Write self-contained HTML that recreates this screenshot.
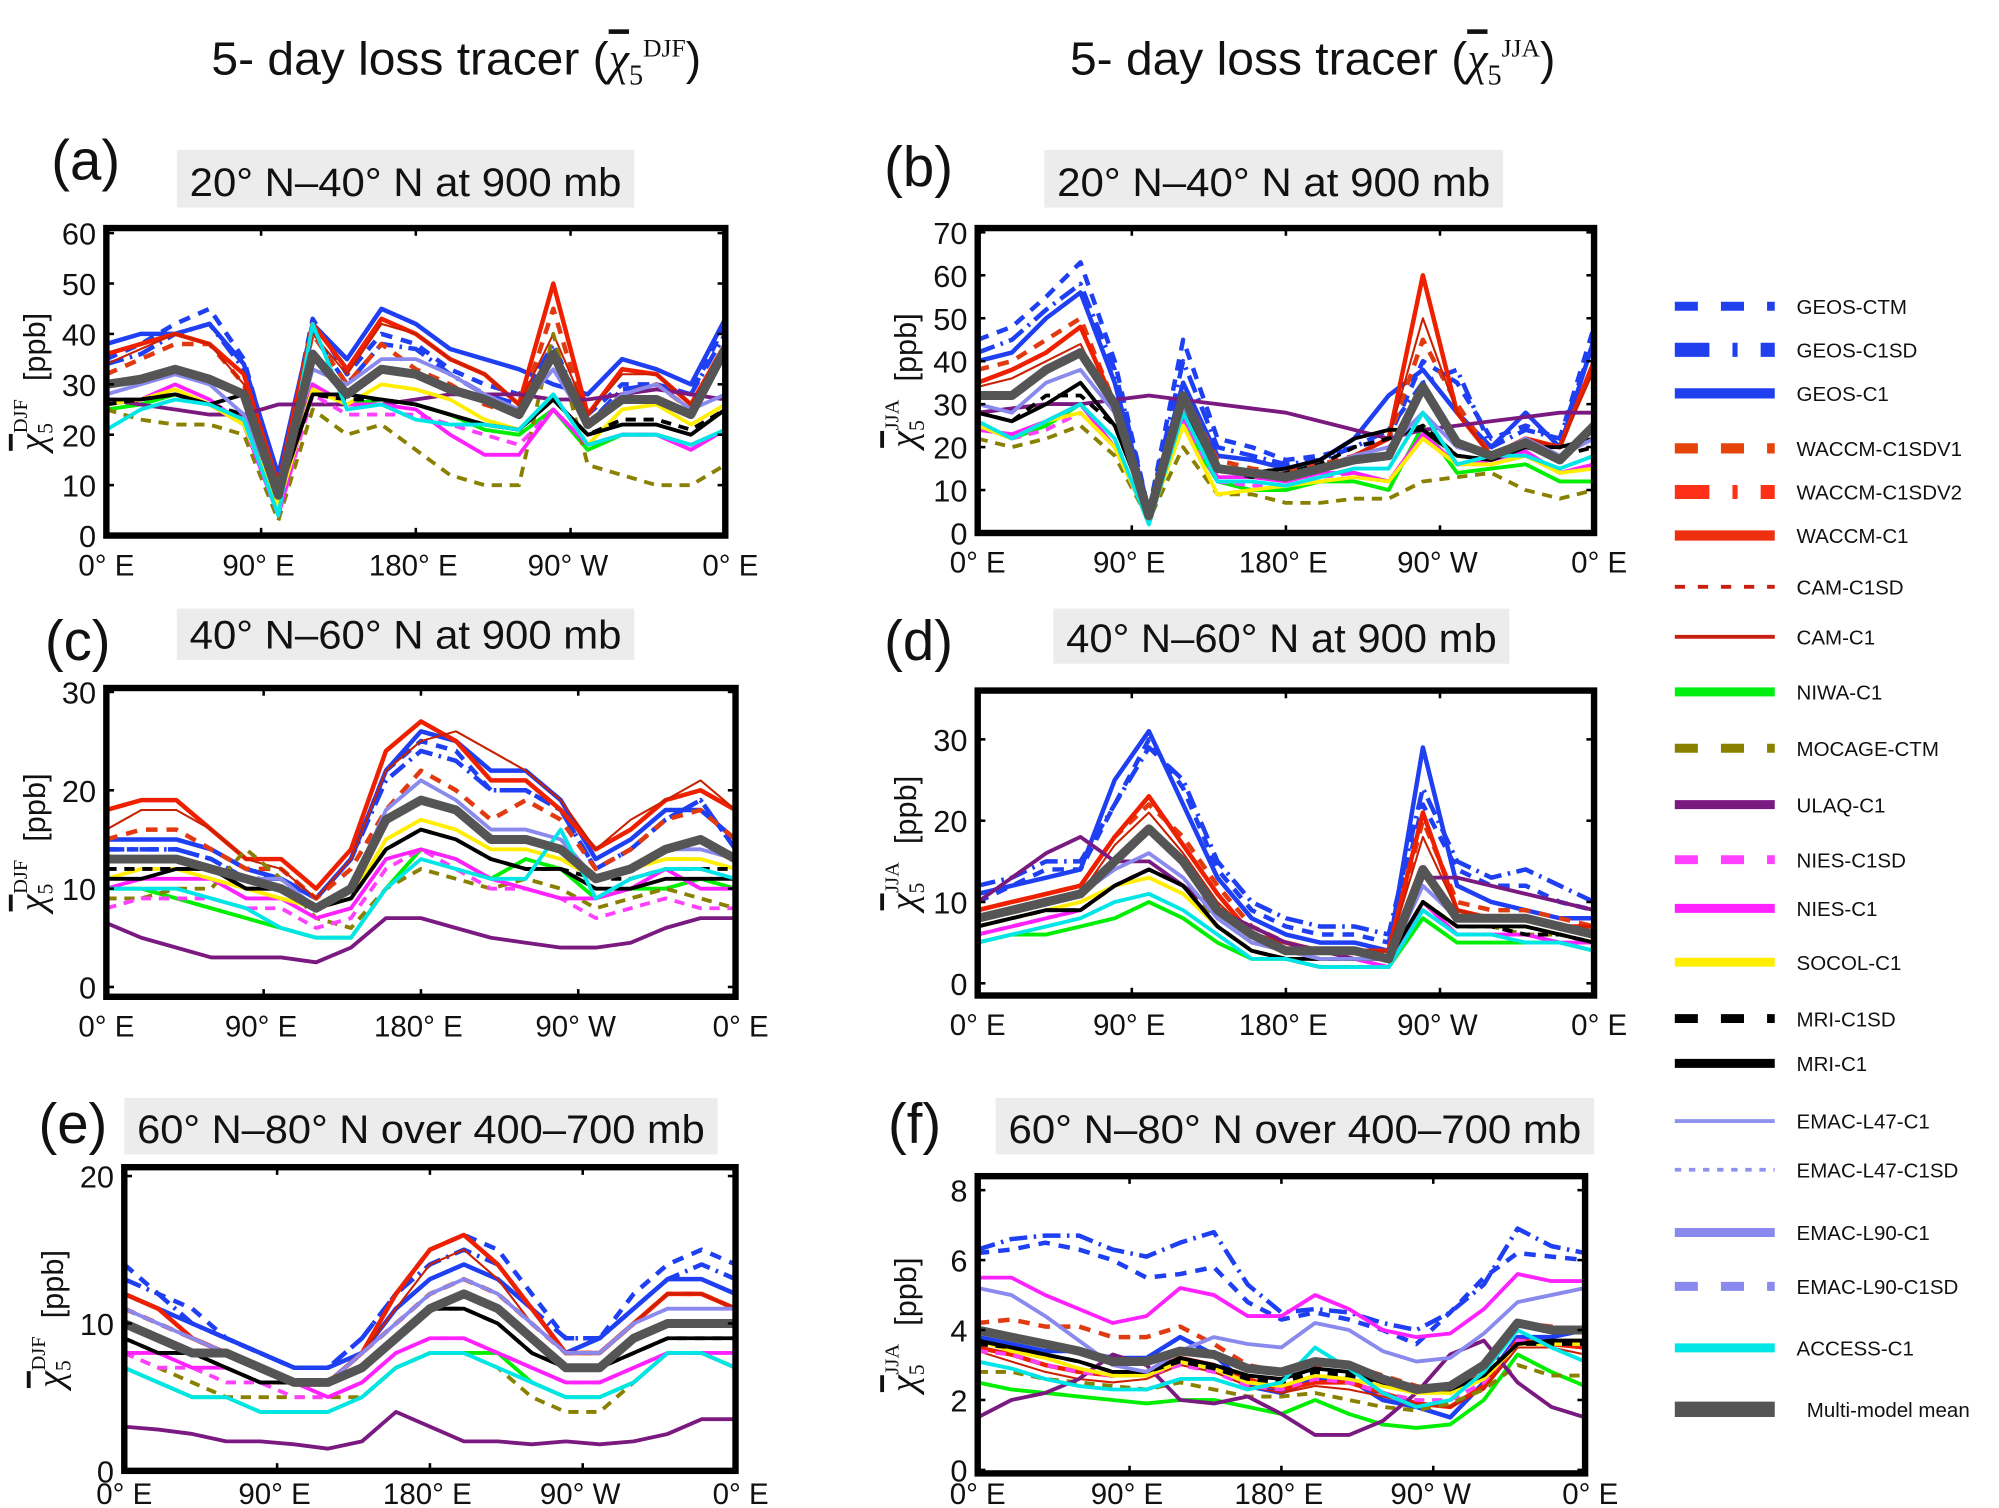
<!DOCTYPE html>
<html><head><meta charset="utf-8">
<style>
html,body{margin:0;padding:0;background:#fff;}
svg{display:block;font-family:"Liberation Sans",sans-serif;}
</style></head>
<body>
<svg id="fig" width="1999" height="1508" viewBox="0 0 1560 1177" preserveAspectRatio="none" xmlns="http://www.w3.org/2000/svg">
<g id="titles"></g>
<g id="panels"></g>
<g id="legend"></g>
</svg>
<script>
// ---- data (longitude every 20 deg, 0..360) ----
const lons = [0,20,40,60,80,100,120,140,160,180,200,220,240,260,280,300,320,340,360];
const seriesNames = ["GEOS-CTM","GEOS-C1SD","GEOS-C1","WACCM-C1SDV1","WACCM-C1","CAM-C1","NIWA-C1","MOCAGE-CTM","ULAQ-C1","NIES-C1SD","NIES-C1","SOCOL-C1","MRI-C1SD","MRI-C1","EMAC-L90-C1","ACCESS-C1","Multi-model mean"];
const xTickLabels = ["0° E","90° E","180° E","90° W","0° E"];
const yTicksA = [0,10,20,30,40,50,60];
const yTicksB = [0,10,20,30,40,50,60,70];
const yTicksC = [0,10,20,30];
const yTicksD = [0,10,20,30];
const yTicksE = [0,10,20];
const yTicksF = [0,2,4,6,8];

const panelA = [
[35,38,42,45,35,10,43,32,40,38,33,30,28,35,24,30,30,28,42],
[34,36,40,42,33,12,40,30,38,37,32,28,26,38,22,29,30,28,40],
[38,40,40,42,34,12,42,35,45,42,37,35,33,30,28,35,33,30,43],
[32,35,38,38,30,10,40,30,38,33,30,26,24,45,22,28,30,25,38],
[36,38,40,38,32,10,42,33,43,40,35,32,26,50,24,33,32,26,38],
[34,37,40,38,30,10,40,32,42,40,35,32,26,40,24,32,32,26,38],
[25,26,28,26,22,5,30,26,27,26,24,21,20,25,17,20,20,18,21],
[25,23,22,22,20,3,25,20,22,17,12,10,10,40,14,12,10,10,14],
[27,26,25,24,24,26,26,26,26,27,28,28,28,27,27,28,29,28,27],
[27,27,29,26,22,4,28,24,24,24,22,20,18,25,18,20,20,18,21],
[26,27,30,27,22,4,30,26,26,25,20,16,16,25,18,20,20,17,21],
[26,27,29,26,22,6,29,26,30,29,27,23,21,28,18,25,26,22,26],
[26,27,28,26,24,8,28,27,27,26,24,22,21,27,20,23,23,21,25],
[27,27,28,26,28,8,28,28,27,26,24,22,21,27,20,22,22,20,25],
[28,30,32,30,24,8,33,30,35,35,32,28,25,33,22,28,30,25,28],
[21,25,27,26,23,4,42,25,26,23,22,22,21,28,18,20,20,18,21],
[30,31,33,31,28,8,36,28,33,32,29,27,24,36,22,27,27,24,37]];
const panelB = [
[45,48,55,63,40,5,45,22,20,17,18,20,22,40,35,22,25,22,48],
[42,45,52,58,38,5,40,20,18,16,17,20,24,35,38,20,24,22,45],
[40,42,50,56,35,5,35,18,17,15,17,22,32,38,28,20,28,20,45],
[38,40,45,50,30,5,33,17,15,14,16,18,22,45,30,18,22,20,40],
[35,38,42,48,30,5,30,15,14,13,15,18,22,60,28,18,22,20,40],
[34,36,40,44,28,5,30,15,14,13,15,18,22,50,28,18,22,20,38],
[25,22,25,30,20,3,25,12,10,10,12,12,10,25,14,15,16,12,12],
[22,20,22,25,18,3,20,9,9,7,7,8,8,12,13,14,10,8,10],
[28,29,30,30,31,32,31,30,29,28,26,24,22,24,25,26,27,28,28],
[25,22,24,28,20,3,26,12,11,11,13,14,12,22,16,16,18,14,16],
[24,23,26,30,20,3,27,13,13,12,14,14,12,23,16,17,19,14,16],
[25,22,26,28,20,3,25,9,10,11,12,13,12,22,16,16,18,14,15],
[28,26,32,32,25,5,28,15,13,14,16,20,22,25,18,17,20,18,20],
[28,26,30,35,25,5,28,15,14,15,17,22,24,24,18,17,20,20,22],
[30,28,35,38,28,5,30,15,14,13,15,18,20,28,20,18,22,18,22],
[26,22,26,30,22,2,28,12,12,11,13,15,15,28,16,18,18,15,18],
[32,32,38,42,30,4,32,15,14,13,15,17,18,34,21,18,21,17,25]];
const panelC = [
[14,14,14,13,11,11,9,13,22,25,24,20,20,18,12,14,17,19,14],
[14,14,14,13,11,11,9,13,21,24,23,20,20,18,12,14,17,19,14],
[15,15,15,14,12,11,9,13,22,26,25,22,22,19,13,15,18,18,15],
[15,16,16,14,12,12,9,12,18,22,20,17,19,17,12,14,17,18,15],
[18,19,19,16,13,13,10,14,24,27,25,21,21,18,14,16,19,20,18],
[16,18,18,16,13,12,9,13,22,25,26,24,22,19,14,17,19,21,18],
[10,10,9,8,7,6,5,5,10,14,13,11,13,12,9,10,10,11,10],
[9,9,10,10,14,11,7,6,10,12,11,10,11,10,8,9,10,9,8],
[6.5,5,4,3,3,3,2.5,4,7,7,6,5,4.5,4,4,4.5,6,7,7],
[8,9,9,9,8,8,6,7,12,14,12,10,10,9,7,8,9,8,8],
[10,11,11,11,9,9,7,8,13,14,13,11,10,9,9,10,12,10,10],
[11,12,12,11,10,9,8,9,15,17,16,14,14,13,11,12,13,13,12],
[12,12,12,12,10,10,8,9,14,16,15,13,12,12,11,11,12,12,12],
[11,11,12,12,10,10,8,9,14,16,15,13,12,12,10,10,11,11,11],
[13,13,13,12,11,11,8,10,18,21,19,16,16,15,11,12,14,14,13],
[10,10,10,9,8,6,5,5,10,13,12,11,11,16,9,11,12,12,11],
[13,13,13,12,11,10,8,10,17,19,18,15,15,14,11,12,14,15,13]];
const panelD = [
[10,12,14,14,22,30,24,14,9,7,6,6,5,22,14,12,12,10,9],
[12,13,15,15,22,29,25,15,10,8,7,7,6,24,15,13,14,12,10],
[11,12,13,14,25,31,22,13,8,6,5,5,4,29,12,10,9,8,8],
[9,10,11,12,18,22,18,12,7,5,4,4,4,20,10,9,9,8,7],
[9,10,11,12,18,23,17,11,6,5,4,4,4,21,9,8,8,7,7],
[8,9,10,11,17,21,16,10,6,5,4,4,4,18,9,8,8,7,7],
[5,6,6,7,8,10,8,5,3,3,2,2,2,8,5,5,5,5,4],
[6,7,8,9,12,14,12,8,5,4,3,3,3,10,7,7,6,6,5],
[10,13,16,18,15,15,12,9,7,5,4,3,3,13,13,12,11,10,9],
[6,7,8,9,12,14,12,7,4,3,2,2,2,9,6,6,6,5,4],
[6,7,8,9,12,14,12,7,4,3,3,3,2,10,6,6,6,5,5],
[7,8,9,10,12,13,11,7,4,3,3,3,3,10,7,7,7,6,5],
[7,8,9,9,12,14,12,7,4,3,3,3,3,10,7,7,6,6,5],
[7,8,9,9,12,14,12,7,4,3,3,3,3,10,7,7,7,6,5],
[8,9,10,11,14,16,13,8,5,4,3,3,3,12,8,8,8,7,6],
[5,6,7,8,10,11,9,6,3,3,2,2,2,9,6,6,5,5,4],
[8,9,10,11,15,19,15,9,6,4,4,4,3,14,8,8,8,7,6]];
const panelE = [
[14,12,11,9,8,7,7,9,12,15,16,15,12,9,9,12,14,15,14],
[13,12,10,9,8,7,7,9,12,14,15,14,11,9,9,11,13,14,13],
[12,11,10,9,8,7,7,8,11,13,14,13,11,8,9,11,13,13,12],
[11,10,9,8,7,6,6,8,10,12,13,12,10,8,8,10,12,12,11],
[12,11,9,8,7,6,6,8,12,15,16,14,11,8,8,10,12,12,11],
[11,10,9,8,7,6,6,8,11,14,15,13,10,8,8,10,12,12,11],
[7,6,5,5,4,4,4,5,7,8,8,8,6,5,5,6,8,8,7],
[8,7,6,5,5,5,5,5,7,8,8,7,5,4,4,6,8,8,7],
[3,2.8,2.5,2,2,1.8,1.5,2,4,3,2,2,1.8,2,1.8,2,2.5,3.5,3.5],
[8,7,7,6,6,5,5,6,8,9,9,8,7,6,6,7,8,8,7],
[8,8,7,7,6,6,5,6,8,9,9,8,7,6,6,7,8,8,8],
[10,9,8,7,6,6,6,7,9,11,12,11,9,7,7,9,10,10,10],
[9,8,8,7,6,6,6,7,9,11,11,10,8,7,7,8,9,9,9],
[9,8,8,7,6,6,6,7,9,11,11,10,8,7,7,8,9,9,9],
[11,10,9,8,7,6,6,8,10,12,13,12,10,8,8,10,11,11,11],
[7,6,5,5,4,4,4,5,7,8,8,7,6,5,5,6,8,8,7],
[10,9,8,8,7,6,6,7,9,11,12,11,9,7,7,9,10,10,10]];
const panelF = [
[6.2,6.3,6.5,6.3,6.0,5.5,5.6,5.8,4.8,4.3,4.5,4.3,4.0,3.6,4.5,5.5,6.2,6.1,6.0],
[6.3,6.6,6.7,6.7,6.3,6.1,6.5,6.8,5.3,4.5,4.6,4.5,4.2,4.0,4.5,5.3,6.9,6.4,6.2],
[3.8,3.6,3.4,3.4,3.2,3.2,3.8,3.3,2.4,2.2,2.6,2.6,2.0,1.8,1.5,2.5,3.8,3.8,4.0],
[4.2,4.3,4.1,4.1,3.8,3.8,4.1,3.6,3.0,2.8,3.0,3.0,2.7,2.4,2.2,2.8,4.2,4.1,4.0],
[3.5,3.3,3.0,2.8,2.7,2.8,3.2,3.0,2.6,2.3,2.5,2.5,2.2,1.9,1.8,2.4,3.7,3.6,3.5],
[3.4,3.1,2.8,2.6,2.5,2.6,3.0,2.8,2.4,2.2,2.4,2.3,2.1,1.9,1.8,2.3,3.5,3.5,3.3],
[2.5,2.3,2.2,2.1,2.0,1.9,2.0,2.0,1.8,1.6,2.0,1.6,1.3,1.2,1.3,2.0,3.3,2.8,2.4],
[2.8,2.8,2.6,2.5,2.4,2.3,2.5,2.3,2.1,2.1,2.2,2.0,1.8,1.7,1.9,2.3,3.0,2.7,2.7],
[1.5,2.0,2.2,2.6,3.3,3.0,2.0,1.9,2.1,1.6,1.0,1.0,1.4,2.2,3.3,3.7,2.5,1.8,1.5],
[3.4,3.3,3.0,2.8,2.7,2.7,3.0,2.8,2.4,2.3,2.6,2.5,2.2,2.0,2.0,2.5,3.7,3.6,3.6],
[5.5,5.5,5.0,4.6,4.2,4.4,5.2,5.0,4.4,4.4,5.0,4.6,4.0,3.8,3.9,4.6,5.6,5.4,5.4],
[3.7,3.4,3.2,2.9,2.7,2.7,3.1,2.9,2.5,2.4,2.7,2.6,2.4,2.2,2.2,2.6,3.6,3.6,3.6],
[3.6,3.5,3.3,3.1,2.8,2.8,3.1,2.9,2.6,2.5,2.8,2.7,2.5,2.3,2.3,2.7,3.6,3.6,3.6],
[3.7,3.5,3.3,3.1,2.8,2.8,3.2,3.0,2.7,2.6,2.9,2.8,2.5,2.3,2.3,2.7,3.6,3.7,3.7],
[5.2,5.0,4.4,3.7,3.0,2.8,3.4,3.8,3.6,3.5,4.2,4.0,3.4,3.1,3.2,3.9,4.8,5.0,5.2],
[3.1,2.9,2.6,2.4,2.3,2.3,2.6,2.6,2.3,2.5,3.5,2.9,2.2,1.8,2.0,2.8,4.0,3.5,3.1],
[4.0,3.8,3.6,3.4,3.1,3.1,3.4,3.3,2.9,2.8,3.1,3.0,2.6,2.3,2.4,3.0,4.2,4.0,4.0]];

// ---- styles ----
const styles = [
 {c:"#1f3ff2",w:3.5,d:"9,7"},
 {c:"#1f3ff2",w:3.5,d:"14,5,2,5"},
 {c:"#1f3ff2",w:3.5,d:""},
 {c:"#e23a10",w:3.5,d:"9,7"},
 {c:"#ee2000",w:3.5,d:""},
 {c:"#c92000",w:1.6,d:""},
 {c:"#00ee00",w:3,d:""},
 {c:"#8a8000",w:3,d:"8,6"},
 {c:"#7a1a80",w:3,d:""},
 {c:"#ff40ff",w:3,d:"8,6"},
 {c:"#ff22ff",w:3,d:""},
 {c:"#ffee00",w:3,d:""},
 {c:"#000000",w:3,d:"8,6"},
 {c:"#000000",w:3,d:""},
 {c:"#8a8aee",w:3,d:""},
 {c:"#00e6e6",w:3,d:""},
 {c:"#555555",w:7,d:""}
];
const NS="http://www.w3.org/2000/svg";
function mk(tag,attrs,parent){const e=document.createElementNS(NS,tag);for(const k in attrs)e.setAttribute(k,attrs[k]);if(parent)parent.appendChild(e);return e;}

const panels = [
 {id:"a",data:panelA,ticks:yTicksA,x0:83,x1:566,y0:178,y1:418,ymin:0,ymax:61,season:"DJF",label:"(a)",lx:40,ly:140,title:"20° N–40° N  at 900 mb",bx:138,by:117,bw:357,bh:45},
 {id:"b",data:panelB,ticks:yTicksB,x0:763,x1:1244,y0:178,y1:416,ymin:0,ymax:71,season:"JJA",label:"(b)",lx:690,ly:145,title:"20° N–40° N  at 900 mb",bx:815,by:117,bw:358,bh:45},
 {id:"c",data:panelC,ticks:yTicksC,x0:83,x1:574,y0:537,y1:778,ymin:-1,ymax:30.4,season:"DJF",label:"(c)",lx:35,ly:515,title:"40° N–60° N at 900 mb",bx:138,by:475,bw:357,bh:40},
 {id:"d",data:panelD,ticks:yTicksD,x0:763,x1:1244,y0:539,y1:777,ymin:-1.5,ymax:36,season:"JJA",label:"(d)",lx:690,ly:515,title:"40° N–60° N at 900 mb",bx:822,by:475,bw:356,bh:43},
 {id:"e",data:panelE,ticks:yTicksE,x0:97,x1:574,y0:911,y1:1148,ymin:0,ymax:20.6,season:"DJF",label:"(e)",lx:30,ly:892,title:"60° N–80° N over 400–700 mb",bx:97,by:857,bw:463,bh:44},
 {id:"f",data:panelF,ticks:yTicksF,x0:763,x1:1237,y0:918,y1:1150,ymin:-0.1,ymax:8.4,season:"JJA",label:"(f)",lx:693,ly:892,title:"60° N–80° N over 400–700 mb",bx:777,by:857,bw:467,bh:44}
];

const titles=document.getElementById("titles");
function bigTitle(x,season,name){
  const t=mk("text",{x:x,y:58,"font-size":36,fill:"#111"},titles);
  
  
  t.innerHTML='<tspan textLength="310" lengthAdjust="spacingAndGlyphs">5- day loss tracer (</tspan><tspan font-family="Liberation Serif" font-style="italic" text-decoration="overline">χ</tspan><tspan font-family="Liberation Serif" font-size="22" dy="8">5</tspan><tspan font-family="Liberation Serif" font-size="20" dy="-22">'+season+'</tspan><tspan dy="14">)</tspan>';
}
bigTitle(165,"DJF","left-column-title");
bigTitle(835,"JJA","right-column-title");

const pg=document.getElementById("panels");
panels.forEach(p=>{
  const g=mk("g",{},pg);
  
  
  const xs=v=>p.x0+(v/360)*(p.x1-p.x0);
  const ys=v=>p.y1-(v-p.ymin)/(p.ymax-p.ymin)*(p.y1-p.y0);
  const lab=mk("text",{x:p.lx,y:p.ly,"font-size":44,fill:"#111"},g);
  lab.textContent=p.label;
  
  
  const box=mk("rect",{x:p.bx,y:p.by,width:p.bw,height:p.bh,fill:"#ececec"},g);
  
  
  const tt=mk("text",{x:p.bx+p.bw/2,y:p.by+p.bh-9,"font-size":31,"text-anchor":"middle",fill:"#111",textLength:p.bw-20,lengthAdjust:"spacingAndGlyphs"},g);
  tt.textContent=p.title;
  
  
  mk("clipPath",{id:"clip"+p.id},g).appendChild(mk("rect",{x:p.x0,y:p.y0,width:p.x1-p.x0,height:p.y1-p.y0}));
  const sg=mk("g",{"clip-path":"url(#clip"+p.id+")"},g);
  p.data.forEach((vals,i)=>{
    const s=styles[i];
    const pts=vals.map((v,j)=>xs(lons[j]).toFixed(1)+","+ys(v).toFixed(1)).join(" ");
    const pl=mk("polyline",{points:pts,fill:"none",stroke:s.c,"stroke-width":s.w,"stroke-linejoin":"round","stroke-linecap":"butt"},sg);
    if(s.d)pl.setAttribute("stroke-dasharray",s.d);
    
    
  });
  const fr=mk("rect",{x:p.x0,y:p.y0,width:p.x1-p.x0,height:p.y1-p.y0,fill:"none",stroke:"#000","stroke-width":5},g);
  
  
  p.ticks.forEach(t=>{
    const y=ys(t);
    mk("line",{x1:p.x0,x2:p.x0+6,y1:y,y2:y,stroke:"#000","stroke-width":2},g);
    mk("line",{x1:p.x1-6,x2:p.x1,y1:y,y2:y,stroke:"#000","stroke-width":2},g);
    const tl=mk("text",{x:p.x0-8,y:y+9,"font-size":24,"text-anchor":"end",fill:"#111"},g);
    tl.textContent=t;
    
    
  });
  const ly=Math.min(p.y1+31,1174);
  xTickLabels.forEach((l,k)=>{
    const x=xs(k*90);
    mk("line",{x1:x,x2:x,y1:p.y0,y2:p.y0+6,stroke:"#000","stroke-width":2},g);
    mk("line",{x1:x,x2:x,y1:p.y1-6,y2:p.y1,stroke:"#000","stroke-width":2},g);
    const tl=mk("text",{x:x+(k==0?0:k==4?4:-2),y:ly,"font-size":23,"text-anchor":"middle",fill:"#111"},g);
    tl.textContent=l;
    
    
  });
  const yc=(p.y0+p.y1)/2;
  const ax=p.x0-48;
  const yl=mk("text",{transform:"translate("+ax+","+yc+") rotate(-90)","font-size":24,"text-anchor":"middle",fill:"#111"},g);
  yl.innerHTML='<tspan font-family="Liberation Serif" font-style="italic" font-size="30" text-decoration="overline">χ</tspan><tspan font-family="Liberation Serif" font-size="17" dy="6">5</tspan><tspan font-family="Liberation Serif" font-size="16" dx="-8" dy="-20">'+p.season+'</tspan><tspan dx="14" dy="14">[ppb]</tspan>';
  
  
});

// ---- legend ----
const legNames=["GEOS-CTM","GEOS-C1SD","GEOS-C1","WACCM-C1SDV1","WACCM-C1SDV2","WACCM-C1","CAM-C1SD","CAM-C1","NIWA-C1","MOCAGE-CTM","ULAQ-C1","NIES-C1SD","NIES-C1","SOCOL-C1","MRI-C1SD","MRI-C1","EMAC-L47-C1","EMAC-L47-C1SD","EMAC-L90-C1","EMAC-L90-C1SD","ACCESS-C1","Multi-model mean"];
const legY=[239,273,307,350,384,418,458,497,540,584,628,671,709,751,795,830,875,913,962,1004,1052,1100];
const legSt=[
 {c:"#2040ee",w:7,d:"18,18"},{c:"#2040ee",w:11,d:"27,18,4,18"},{c:"#2040ee",w:8,d:""},
 {c:"#e5450a",w:8,d:"18,18"},{c:"#ff3018",w:11,d:"27,18,4,18"},{c:"#ee3010",w:8,d:""},
 {c:"#c82010",w:3,d:"8,10"},{c:"#c82010",w:3,d:""},{c:"#00ee10",w:7,d:""},
 {c:"#8a8000",w:7,d:"18,18"},{c:"#7a1a80",w:7,d:""},{c:"#ff40ff",w:7,d:"18,18"},
 {c:"#ff22ff",w:7,d:""},{c:"#ffee00",w:7,d:""},{c:"#000",w:7,d:"18,18"},{c:"#000",w:7,d:""},
 {c:"#9090ee",w:3,d:""},{c:"#9090ee",w:3,d:"5,6"},{c:"#8a8aee",w:7,d:""},{c:"#8a8aee",w:7,d:"18,18"},
 {c:"#00e6e6",w:7,d:""},{c:"#555",w:12,d:""}];
const lg=document.getElementById("legend");


legNames.forEach((n,i)=>{
  const g=mk("g",{},lg);
  
  
  const s=legSt[i];
  const l=mk("line",{x1:1307,x2:1385,y1:legY[i],y2:legY[i],stroke:s.c,"stroke-width":s.w},g);
  if(s.d)l.setAttribute("stroke-dasharray",s.d);
  const t=mk("text",{x:i==21?1410:1402,y:legY[i]+6,"font-size":16,fill:"#111"},g);
  t.textContent=n;
});
</script>
</body></html>
